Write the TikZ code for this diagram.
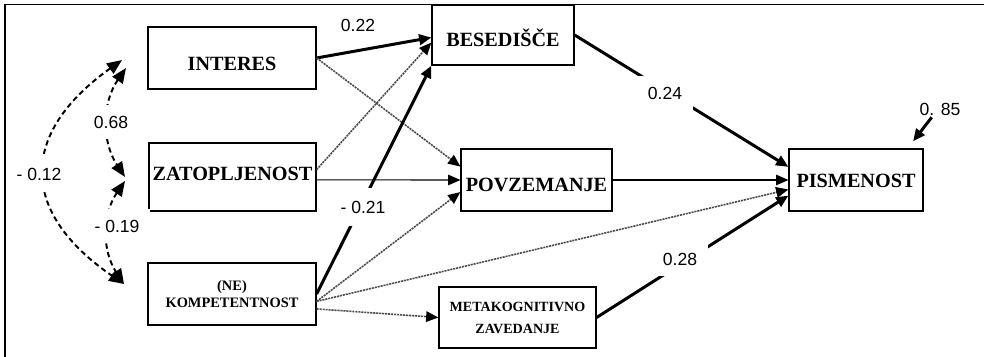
\documentclass[tikz,border=0pt]{standalone}
\usepackage{fontspec}
\setmainfont{Liberation Serif}
\newfontfamily\numfont{Liberation Sans}
\usetikzlibrary{arrows.meta}

\begin{document}
\begin{tikzpicture}[x=0.02cm,y=-0.02cm,
  var/.style={draw,line width=0.7pt,inner sep=0pt,align=center,font=\bfseries\fontsize{11.5}{13}\selectfont},
  drop/.style={text height=#1,text depth=0pt},
  small/.style={font=\bfseries\fontsize{8.2}{9.5}\selectfont},
  coef/.style={font=\numfont\fontsize{10}{12}\selectfont,inner sep=1pt},
  cut/.style={fill=white,inner sep=6pt},
  strong/.style={line width=1.7pt,-{Triangle[length=7pt,width=6pt]}},
  plain/.style={line width=0.6pt,-{Triangle[length=7pt,width=6pt]}},
  weak/.style={line width=0.9pt,gray!60!black,dash pattern=on 1.2pt off 0.5pt,-{Triangle[length=7pt,width=6pt,black]}},
  corr/.style={line width=1.1pt,dash pattern=on 3pt off 2pt,{Triangle[length=8.5pt,width=7pt]}-{Triangle[length=8.5pt,width=7pt]}}]
\useasboundingbox (0,0) rectangle (984,357);
\draw[line width=0.8pt] (5,357) -- (5,4.5) -- (984,4.5);

\node[var,drop=14pt,minimum width=3.36cm,minimum height=1.24cm] (interes) at (232,58) {INTERES};
\node[var,text height=7.5pt,text depth=3pt,minimum width=3.34cm,minimum height=1.36cm] (zatop) at (232.5,177) {ZATOPLJENOST};
\node[var,small,minimum width=3.36cm,minimum height=1.24cm] (kompet) at (232,294) {(NE)\\KOMPETENTNOST};
\node[var,drop=13pt,minimum width=2.84cm,minimum height=1.2cm] (besed) at (503,35) {BESEDIŠČE};
\node[var,drop=13pt,minimum width=3.02cm,minimum height=1.24cm] (povzem) at (536.5,180) {POVZEMANJE};
\node[var,font=\bfseries\fontsize{8}{12.5}\selectfont,minimum width=3.14cm,minimum height=1.22cm] (metakog) at (517.5,317.5) {METAKOGNITIVNO\\ZAVEDANJE};
\node[var,drop=9pt,minimum width=2.68cm,minimum height=1.24cm] (pismen) at (856,180) {PISMENOST};

\draw[strong] (interes.east) -- (besed.182);
\draw[weak] (interes.east) -- (povzem.170);
\draw[weak] (zatop.5) -- (besed.186);
\draw[plain] (zatop.-2) -- (povzem.west);
\draw[strong] (kompet.east) -- (besed.south west);
\draw[weak] (kompet.-5) -- (povzem.189);
\draw[weak] (kompet.-5) -- (pismen.188);
\draw[weak] (kompet.-10) -- (metakog.west);
\draw[strong] (besed.east) -- (pismen.169);
\draw[plain] (povzem.east) -- (pismen.west);
\draw[strong] (metakog.east) -- (pismen.193);

\coordinate (a1) at (122,60);
\coordinate (a2) at (126,68);
\coordinate (b1) at (125,177);
\coordinate (b2) at (125,181);
\coordinate (c1) at (124,284);
\draw[corr] (a2) to[bend right=34] (b1);
\draw[corr] (b2) to[bend right=34] (c1);
\draw[corr] (a1) to[bend right=55,looseness=1.45] (c1);

\node[coef] (l22) at (358,25) {0.22};
\node[coef,fill=white,inner xsep=4pt,inner ysep=7pt] (l21) at (363,207) {- 0.21};
\node[coef,cut] (l24) at (665,93) {0.24};
\node[coef,cut] (l28) at (680,259) {0.28};
\node[coef,cut] (l68) at (111,122) {0.68};
\node[coef,cut] (l12) at (39,174) {- 0.12};
\node[coef,cut] (l19) at (117,226) {- 0.19};
\node[coef] (err) at (940,109) {0. 85};
\draw[strong] (err.225) -- ([xshift=-6pt,yshift=4pt]pismen.north east);
\end{tikzpicture}
\end{document}
